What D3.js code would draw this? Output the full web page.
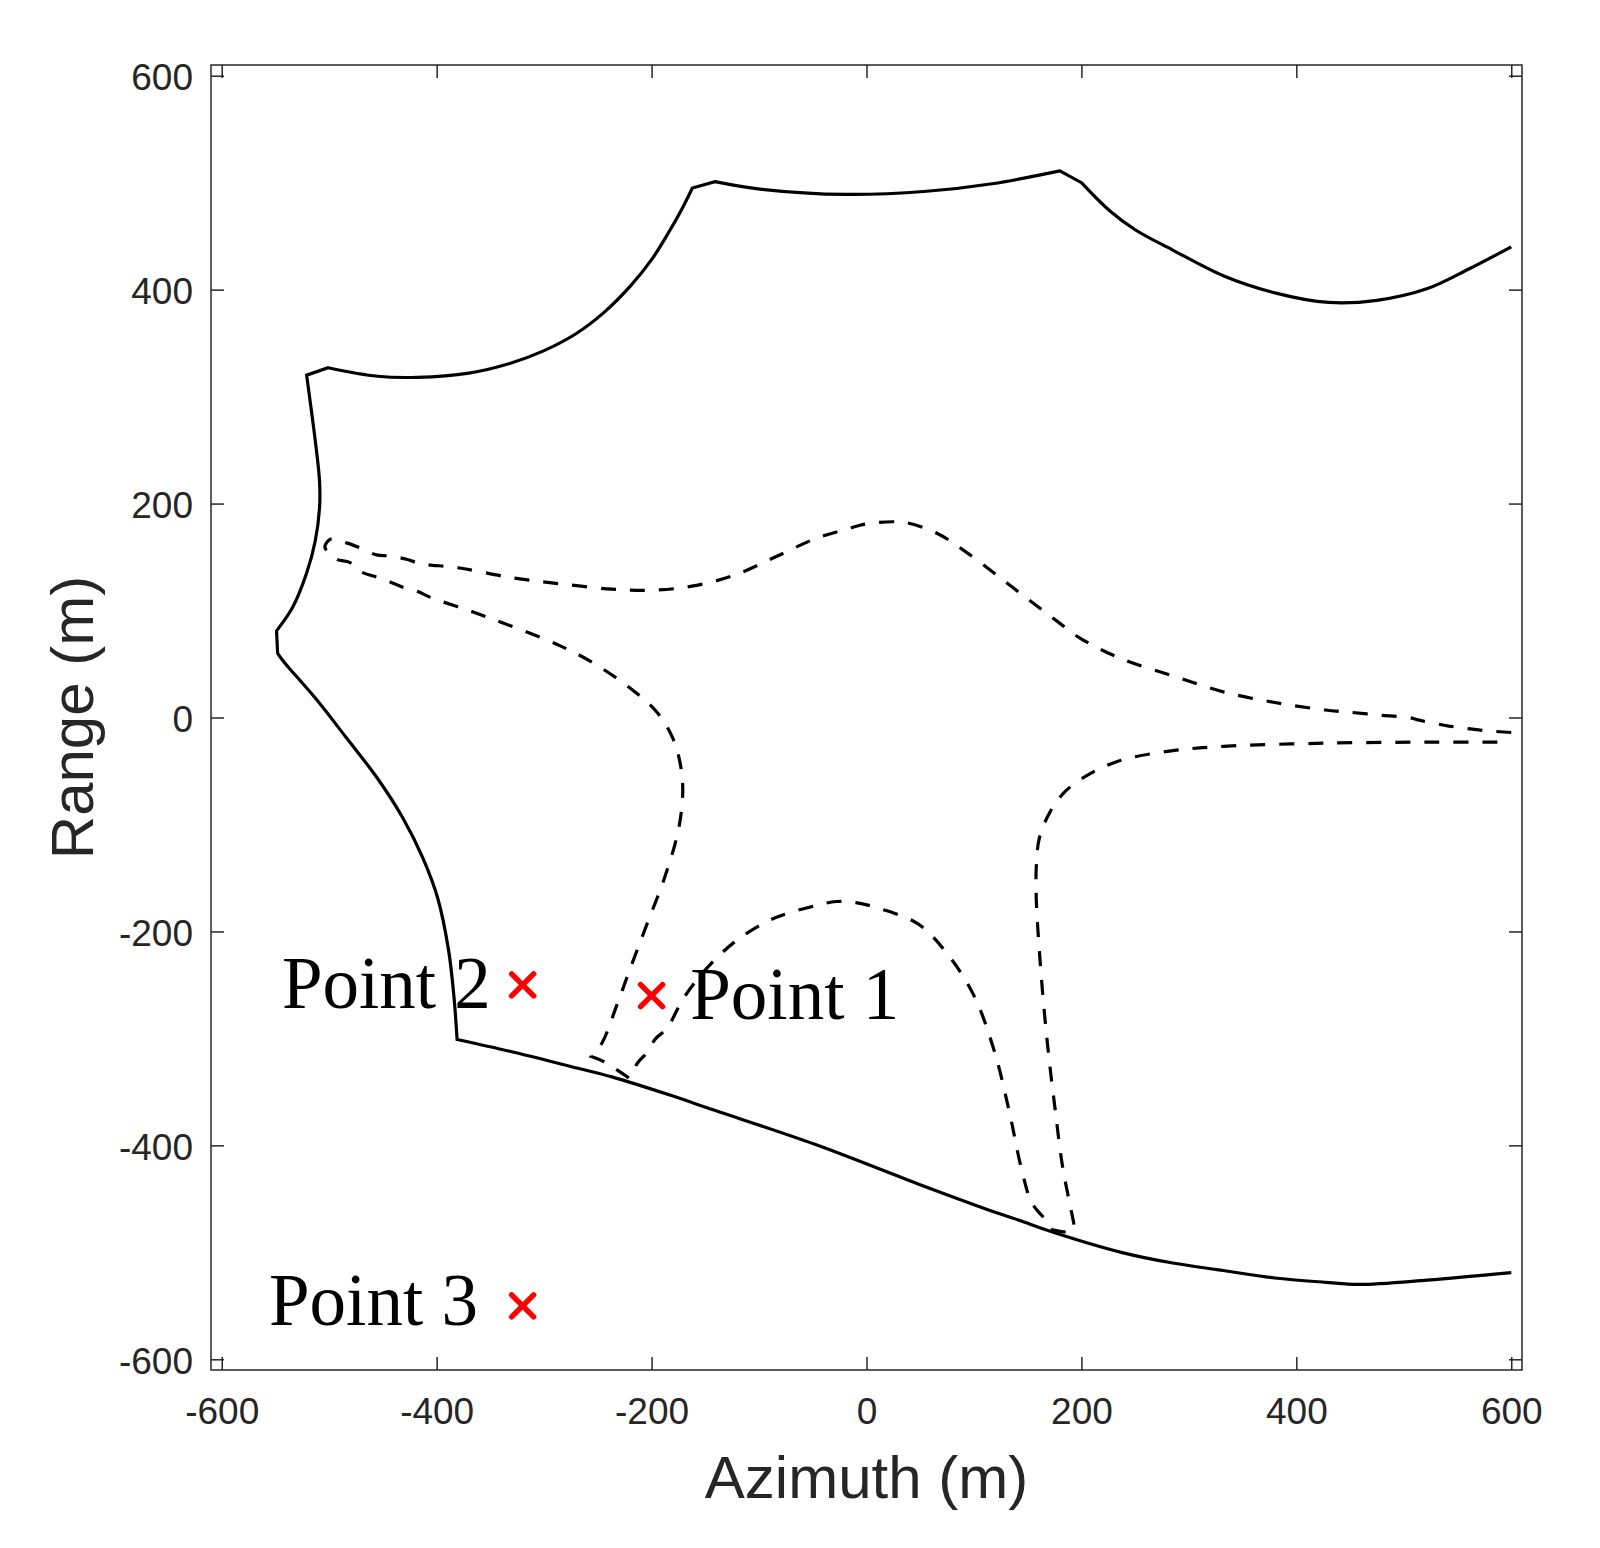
<!DOCTYPE html>
<html>
<head>
<meta charset="utf-8">
<script src="https://cdn.jsdelivr.net/npm/d3@7"></script>
<style>
  body { margin: 0; background: #fff; }
</style>
</head>
<body>
<script>
// Outer boundary (solid), azimuth / range in metres
var solidAz = [600, 560, 522, 475, 430, 380, 332, 285, 250, 226, 200, 180, 117, 56, -19, -99, -141, -162,
  -172, -185, -200, -220, -245, -270, -300, -332, -370, -418, -455, -501, -521,
  -517, -513, -509, -509, -513, -521, -534, -549, -548, -543,
  -538, -512, -484, -455, -432, -413, -399, -389, -384, -381,
  -332, -276, -237, -183, -142, -48, 48, 124, 142, 173, 237, 285, 332, 380, 427, 458, 522, 600];
var solidRg = [440, 419, 401, 390, 388, 397, 413, 437, 456, 474, 500, 511, 499, 492, 489, 494, 501, 495,
  475, 452, 428, 403, 378, 359, 343, 331, 322, 318, 319, 327, 320,
  290, 259, 221, 196, 165, 135, 103, 81, 60, 53,
  47, 17, -19, -57, -93, -131, -169, -217, -260, -301,
  -312, -326, -336, -353, -367, -399, -436, -464, -470, -481, -500, -510, -517, -524, -528, -530, -526, -519];
// indices where the boundary has a kink
var solidCorners = [10, 11, 16, 17, 29, 30, 38, 39, 50];

// Inner contour (dashed)
var dashAz = [600, 573, 542, 512, 505, 480, 449, 427, 380, 332, 285, 237, 199, 180, 142, 95, 66, 38, 24, 0,
  -19, -48, -85, -123, -161, -199, -237, -285, -332, -380, -416, -428, -444, -456, -470, -483, -498, -502, -504,
  -493, -481, -470, -458, -444, -432, -418, -405, -370, -332, -285, -256, -218, -195, -180, -173, -171, -175,
  -188, -205, -220, -232, -246, -256, -244, -221,
  -213, -205, -196, -186, -170, -150, -123, -95, -76, -48, -28, -10, 10, 48, 76, 100, 119, 133, 144, 154, 167, 173,
  187, 193, 193, 189, 182, 176, 170, 165, 161, 158, 158, 161, 171, 185, 209, 237, 285, 332, 427, 522, 593];
var dashRg = [-14, -12, -8, -2, 0, 2, 5, 7, 14, 24, 39, 55, 74, 88, 117, 153, 172, 182, 183, 181,
  176, 167, 150, 133, 123, 119, 120, 125, 131, 140, 144, 148, 151, 152, 158, 163, 167, 164, 159,
  148, 145, 136, 132, 127, 122, 118, 112, 100, 86, 67, 52, 26, 5, -20, -45, -70, -105,
  -150, -195, -235, -268, -304, -317, -322, -337,
  -323, -314, -300, -291, -262, -236, -210, -192, -184, -176, -172, -173, -178, -193, -222, -260, -312, -369, -421, -454, -470, -479,
  -481, -479, -474, -454, -417, -370, -320, -270, -220, -170, -140, -112, -88, -69, -52, -40, -31, -27, -24, -23, -23];
var dashCorners = [62, 64, 86, 88];

// Marked points and their labels
var pointNames = ["Point 1", "Point 2", "Point 3"];
var pointAz = [-200, -320, -320];
var pointRg = [-260, -250, -550];
var labelAz = [-164, -544, -556];
var labelRg = [-282, -272, -568];

var tickVals = [-600, -400, -200, 0, 200, 400, 600];

var width = 1600, height = 1548;
var plotL = 211, plotR = 1522, plotT = 65, plotB = 1370;
var axisColor = "#262626";

var x = d3.scaleLinear().domain([-610, 610]).range([plotL, plotR]);
var y = d3.scaleLinear().domain([-610, 610]).range([plotB, plotT]);

var svg = d3.select("body").append("svg")
    .attr("width", width)
    .attr("height", height)
    .style("font-family", "'Liberation Sans', Arial, sans-serif");

// curves: smooth between kinks, sharp at the kinks, kept as one path so dashes run on
var line = d3.line()
    .x(function(d) { return x(d[0]); })
    .y(function(d) { return y(d[1]); })
    .curve(d3.curveCatmullRom.alpha(0.5));

function kinkedPath(az, rg, corners) {
  var pts = d3.zip(az, rg);
  var cuts = [0].concat(corners, [pts.length - 1]);
  var d = "";
  for (var k = 0; k < cuts.length - 1; k++) {
    var seg = line(pts.slice(cuts[k], cuts[k + 1] + 1));
    d += (k === 0) ? seg : "L" + seg.slice(1);
  }
  return d;
}

svg.append("path")
    .attr("d", kinkedPath(solidAz, solidRg, solidCorners))
    .attr("fill", "none")
    .attr("stroke", "#000")
    .attr("stroke-width", 3.2)
    .attr("stroke-linejoin", "miter");

svg.append("path")
    .attr("d", kinkedPath(dashAz, dashRg, dashCorners))
    .attr("fill", "none")
    .attr("stroke", "#000")
    .attr("stroke-width", 3.2)
    .attr("stroke-dasharray", "15,14");

// axes with inward ticks
var fmt = function(d) { return String(d); };   // plain hyphen minus like the original

function styleAxis(g) {
  g.select(".domain").remove();
  g.selectAll(".tick line").attr("stroke", axisColor).attr("stroke-width", 1.5);
  g.selectAll(".tick text").attr("fill", axisColor).style("font-size", "37px");
}

svg.append("g")
    .attr("transform", "translate(0," + plotB + ")")
    .call(d3.axisBottom(x).tickValues(tickVals).tickFormat(fmt).tickSizeInner(-13).tickSizeOuter(0).tickPadding(28))
    .call(styleAxis)
    .call(function(g) { g.selectAll(".tick text").attr("dy", "0.71em"); });

svg.append("g")
    .attr("transform", "translate(" + plotL + ",0)")
    .call(d3.axisLeft(y).tickValues(tickVals).tickFormat(fmt).tickSizeInner(-13).tickSizeOuter(0).tickPadding(18))
    .call(styleAxis)
    .call(function(g) { g.selectAll(".tick text").attr("dy", "0.38em"); });

svg.append("g")
    .attr("transform", "translate(0," + plotT + ")")
    .call(d3.axisTop(x).tickValues(tickVals).tickSizeInner(-13).tickSizeOuter(0).tickFormat(""))
    .call(styleAxis);

svg.append("g")
    .attr("transform", "translate(" + plotR + ",0)")
    .call(d3.axisRight(y).tickValues(tickVals).tickSizeInner(-13).tickSizeOuter(0).tickFormat(""))
    .call(styleAxis);

svg.append("rect")
    .attr("x", plotL).attr("y", plotT)
    .attr("width", plotR - plotL).attr("height", plotB - plotT)
    .attr("fill", "none")
    .attr("stroke", axisColor)
    .attr("stroke-width", 1.5);

// red x markers
var pts = svg.selectAll("g.pt")
    .data(d3.range(pointNames.length))
    .enter().append("g")
    .attr("class", "pt")
    .attr("transform", function(i) { return "translate(" + x(pointAz[i]) + "," + y(pointRg[i]) + ")"; });

pts.append("path")
    .attr("d", "M-11,-11L11,11M-11,11L11,-11")
    .attr("stroke", "#ff0000")
    .attr("stroke-width", 5.5)
    .attr("stroke-linecap", "round");

svg.selectAll("text.lbl")
    .data(d3.range(pointNames.length))
    .enter().append("text")
    .attr("class", "lbl")
    .attr("x", function(i) { return x(labelAz[i]); })
    .attr("y", function(i) { return y(labelRg[i]); })
    .style("font-family", "'Liberation Serif', 'Times New Roman', serif")
    .style("font-size", "73px")
    .attr("fill", "#000")
    .text(function(i) { return pointNames[i]; });

// axis titles
svg.append("text")
    .attr("x", (plotL + plotR) / 2)
    .attr("y", 1498)
    .attr("text-anchor", "middle")
    .attr("fill", axisColor)
    .style("font-size", "60px")
    .text("Azimuth (m)");

svg.append("text")
    .attr("transform", "translate(93," + (plotT + plotB) / 2 + ") rotate(-90)")
    .attr("text-anchor", "middle")
    .attr("fill", axisColor)
    .style("font-size", "60px")
    .text("Range (m)");
</script>
</body>
</html>
